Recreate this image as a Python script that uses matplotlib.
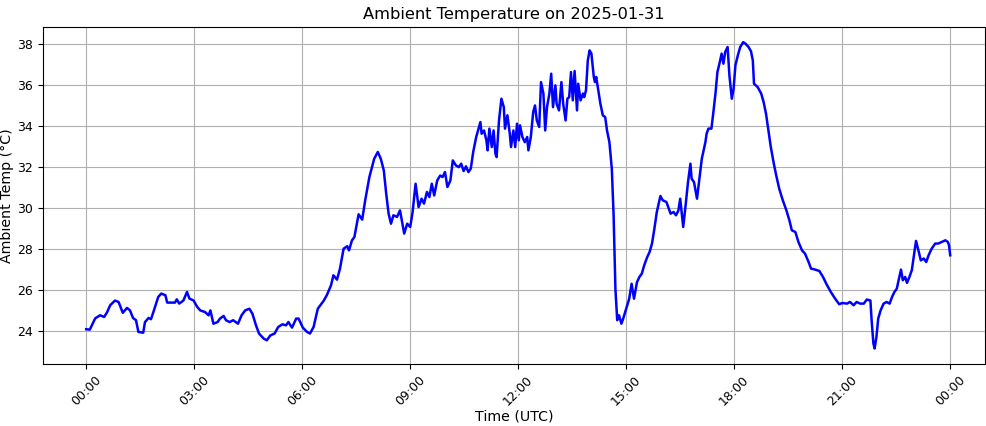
import matplotlib
matplotlib.use("Agg")
import matplotlib.pyplot as plt
import matplotlib.dates as mdates
import pandas as pd

# minutes after midnight (UTC) on 2025-01-31
minutes = [
    0, 6, 15, 23, 30, 35, 40, 48, 54, 61, 68, 73, 78, 83, 87, 95, 98, 104, 108, 112,
    120, 125, 132, 135, 148, 151, 155, 162, 168, 172, 179, 185, 190, 198, 204, 207, 212, 219, 223, 229,
    233, 239, 245, 253, 259, 265, 272, 277, 283, 288, 296, 301, 307, 314, 320, 327, 333, 337, 343, 350,
    354, 361, 368, 373, 379, 386, 396, 401, 408, 412, 418, 423, 429, 435, 438, 443, 447, 454, 460, 465,
    472, 480, 486, 491, 496, 500, 504, 508, 512, 518, 523, 526, 530, 535, 540, 544, 549, 554, 559, 563,
    568, 572, 576, 580, 585, 590, 594, 598, 602, 607, 611, 616, 621, 625, 629, 633, 637, 641, 645, 650,
    657, 659, 663, 667, 669, 672, 676, 679, 682, 684, 688, 692, 696, 698, 702, 706, 708, 712, 715, 718,
    721, 723, 727, 731, 735, 737, 741, 745, 748, 751, 755, 758, 762, 765, 768, 772, 775, 778, 782, 784,
    788, 792, 795, 799, 802, 805, 808, 811, 814, 818, 820, 824, 828, 830, 833, 836, 839, 842, 846, 848,
    850, 853, 857, 861, 865, 868, 872, 876, 879, 882, 885, 888, 892, 895, 900, 905, 909, 913, 918, 922,
    926, 930, 935, 939, 943, 947, 951, 957, 961, 967, 970, 974, 979, 983, 987, 990, 993, 995, 999, 1003,
    1007, 1009, 1013, 1018, 1022, 1026, 1029, 1032, 1034, 1037, 1042, 1045, 1049, 1052, 1056, 1059, 1062, 1065, 1069, 1072,
    1076, 1079, 1082, 1086, 1090, 1095, 1099, 1104, 1108, 1111, 1113, 1119, 1125, 1129, 1133, 1137, 1141, 1146, 1150, 1155,
    1161, 1167, 1172, 1176, 1182, 1187, 1193, 1198, 1204, 1208, 1215, 1222, 1228, 1234, 1241, 1248, 1255, 1260, 1268, 1273,
    1279, 1284, 1290, 1296, 1301, 1307, 1309, 1312, 1314, 1317, 1320, 1324, 1329, 1334, 1339, 1343, 1347, 1351, 1354, 1358,
    1361, 1365, 1368, 1372, 1376, 1380, 1383, 1387, 1391, 1396, 1400, 1404, 1409, 1415, 1420, 1426, 1432, 1436, 1438, 1440,
]

temps_c = [
    24.10, 24.08, 24.63, 24.78, 24.70, 24.94, 25.27, 25.50, 25.43, 24.90, 25.14, 25.02, 24.65, 24.54, 23.97, 23.93, 24.45, 24.65, 24.59, 24.94,
    25.67, 25.84, 25.76, 25.40, 25.40, 25.56, 25.35, 25.50, 25.92, 25.60, 25.50, 25.19, 25.02, 24.94, 24.78, 25.02, 24.37, 24.45, 24.62, 24.75,
    24.54, 24.45, 24.54, 24.37, 24.78, 25.02, 25.10, 24.86, 24.29, 23.89, 23.64, 23.56, 23.80, 23.89, 24.21, 24.34, 24.29, 24.45, 24.18, 24.62,
    24.62, 24.18, 23.97, 23.89, 24.21, 25.10, 25.50, 25.76, 26.24, 26.73, 26.52, 27.06, 28.03, 28.15, 27.95, 28.44, 28.60, 29.71, 29.45, 30.39,
    31.53, 32.42, 32.75, 32.42, 31.85, 30.72, 29.74, 29.25, 29.66, 29.58, 29.90, 29.41, 28.77, 29.25, 29.09, 29.82, 31.20, 30.06, 30.47, 30.23,
    30.80, 30.55, 31.20, 30.63, 31.36, 31.60, 31.53, 31.77, 31.04, 31.36, 32.34, 32.10, 32.01, 32.18, 31.82, 32.05, 31.77, 31.94, 32.75, 33.48,
    34.21, 33.64, 33.80, 33.32, 32.83, 33.89, 32.99, 33.80, 32.67, 32.50, 34.29, 35.35, 34.94, 33.89, 34.54, 33.64, 32.99, 33.80, 32.99, 34.13,
    33.32, 34.05, 33.48, 33.23, 33.48, 32.83, 33.48, 34.70, 35.02, 34.29, 33.97, 36.16, 35.60, 33.80, 34.94, 35.60, 36.57, 34.94, 36.00, 35.10,
    34.78, 36.16, 35.10, 34.29, 35.35, 35.43, 36.65, 35.27, 36.70, 34.78, 36.08, 35.27, 35.60, 35.43, 35.76, 37.22, 37.71, 37.55, 36.41, 36.16,
    36.41, 35.84, 35.10, 34.54, 34.45, 33.80, 33.23, 31.94, 29.66, 26.08, 24.54, 24.78, 24.37, 24.62, 25.10, 25.59, 26.32, 25.59, 26.40, 26.65,
    26.81, 27.22, 27.62, 27.87, 28.28, 29.01, 29.82, 30.60, 30.39, 30.31, 30.06, 29.74, 29.82, 29.66, 29.90, 30.47, 29.66, 29.09, 30.15, 31.28,
    32.18, 31.45, 31.28, 30.47, 31.45, 32.42, 32.83, 33.23, 33.64, 33.89, 33.89, 34.62, 35.67, 36.65, 37.14, 37.55, 37.06, 37.63, 37.87, 36.49,
    35.35, 35.84, 36.98, 37.46, 37.87, 38.11, 38.03, 37.87, 37.66, 37.22, 36.08, 35.92, 35.60, 35.19, 34.62, 33.80, 32.99, 32.18, 31.61, 30.96,
    30.39, 29.90, 29.41, 28.93, 28.84, 28.36, 27.95, 27.79, 27.38, 27.06, 27.01, 26.94, 26.65, 26.29, 25.92, 25.60, 25.32, 25.38, 25.35, 25.43,
    25.27, 25.43, 25.35, 25.35, 25.55, 25.50, 24.54, 23.40, 23.16, 23.72, 24.62, 25.02, 25.35, 25.43, 25.35, 25.67, 25.92, 26.08, 26.49, 27.01,
    26.49, 26.65, 26.36, 26.65, 26.98, 27.79, 28.41, 27.95, 27.46, 27.55, 27.38, 27.71, 28.03, 28.28, 28.28, 28.36, 28.44, 28.36, 28.20, 27.71,
]

title = "Ambient Temperature on 2025-01-31"
xlabel = "Time (UTC)"
ylabel = "Ambient Temp (°C)"

day = pd.Timestamp("2025-01-31")
times = day + pd.to_timedelta(minutes, unit="min")

fig, ax = plt.subplots(figsize=(9.86, 4.26), dpi=100)
fig.subplots_adjust(left=0.0436, right=0.999, bottom=0.146, top=0.937)
ax.plot(times, temps_c, color="blue", linewidth=1.8)
ax.set_xlim(day - pd.Timedelta(minutes=72), day + pd.Timedelta(minutes=1498))
ax.set_title(title, fontsize=11.7)
ax.set_xlabel(xlabel, fontsize=10.2, labelpad=1)
ax.set_ylabel(ylabel, fontsize=10.2)
ax.yaxis.set_label_coords(-0.031, 0.5)
ax.xaxis.set_major_locator(mdates.HourLocator(byhour=range(0, 24, 3)))
ax.xaxis.set_major_formatter(mdates.DateFormatter("%H:%M"))
ax.tick_params(axis="both", labelsize=9)
plt.setp(ax.get_xticklabels(), rotation=45)
ax.grid(True)
fig.savefig("out.png", dpi=100)
